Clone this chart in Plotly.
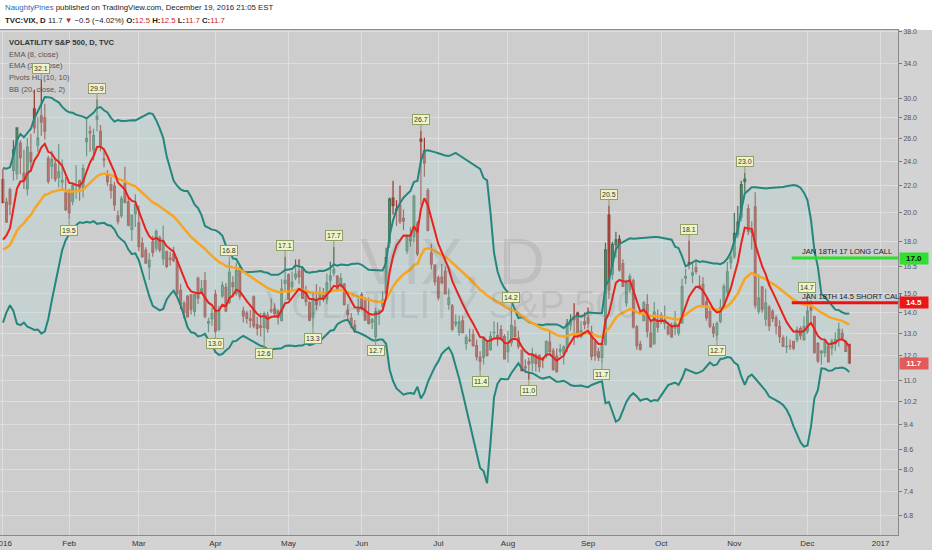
import numpy as np
import pandas as pd
import plotly.graph_objects as go

# ---------------- data ----------------
# closes before the visible window (Nov-Dec 2015), only used to warm up the indicators
warmup_closes = [14.15, 14.54, 15.51, 15.05, 14.33, 16.52, 15.29, 16.06, 18.37, 20.08, 18.16, 18.84, 16.85, 16.99,
                 15.47, 15.62, 15.93, 15.19, 15.12, 16.13,
                 14.67, 15.91, 18.11, 14.81, 15.84, 17.60, 19.61, 19.34, 24.39, 22.73, 20.95, 17.86, 18.94, 20.70,
                 19.34, 16.60, 15.57, 15.74, 16.91, 16.08, 17.29, 18.21]

opens = [
    # Jan
    22.48, 20.75, 21.67, 23.22, 22.96, 25.58, 22.97, 21.74, 24.73, 28.90, 25.40, 28.20, 28.00, 24.23, 23.57, 23.75, 22.64, 22.29, 21.41,
    # Feb
    21.57, 20.79, 21.54, 22.39, 21.81, 25.73, 26.67, 25.01, 27.86, 26.69, 24.18, 22.83, 22.07, 21.95, 19.75, 19.77, 22.16, 20.77, 18.83, 19.90,
    # Mar
    19.26, 17.91, 17.47, 16.47, 17.99, 17.61, 18.27, 16.96, 17.38, 16.98, 17.25, 16.80, 15.16, 14.46, 14.84, 14.91, 14.06, 15.81, 15.00, 15.68, 13.49, 13.70,
    # Apr
    14.94, 13.19, 14.86, 15.31, 14.52, 15.57, 15.00, 16.38, 14.09, 13.98, 13.69, 14.81, 13.42, 13.35, 13.28, 13.88, 14.14, 14.19, 14.07, 13.60, 15.53,
    # May
    16.03, 15.35, 15.85, 16.21, 16.38, 15.14, 14.49, 13.75, 14.62, 14.78, 14.87, 14.70, 15.72, 16.12, 15.93, 15.46, 15.50, 14.11, 13.72, 13.38, 14.06,
    # Jun
    14.92, 14.59, 13.93, 13.52, 12.85, 14.04, 14.34, 15.03, 17.95, 21.05, 20.23, 20.50, 19.58, 17.45, 18.09, 18.34, 19.20, 25.96, 24.90, 21.62, 17.30, 16.57,
    # Jul
    15.84, 15.88, 16.21, 14.42, 14.34, 13.45, 13.06, 13.59, 12.55, 12.69, 12.93, 12.45, 11.95, 11.94, 12.56, 12.27, 13.04, 12.90, 13.18, 12.85,
    # Aug
    12.18, 12.58, 13.29, 12.80, 12.25, 11.54, 11.76, 11.71, 12.00, 12.02, 11.89, 12.04, 12.60, 12.22, 11.99, 12.21, 12.11, 12.37, 13.39, 13.78, 13.97, 12.85, 13.55,
    # Sep
    13.74, 13.05, 12.61, 12.17, 11.94, 12.51, 19.80, 16.05, 17.84, 18.17, 16.66, 14.50, 15.19, 15.68, 13.30, 12.50, 13.62, 14.41, 13.02, 12.54, 13.60,
    # Oct
    13.85, 13.49, 13.32, 13.37, 13.26, 13.03, 13.51, 15.83, 16.73, 16.00, 16.42, 15.40, 15.48, 14.55, 14.05, 13.30, 12.93, 13.57, 14.31, 15.06, 16.72,
    # Nov
    17.11, 18.50, 19.66, 22.32, 20.26, 18.62, 20.40, 14.07, 15.35, 13.68, 14.27, 14.06, 13.74, 13.32, 12.79, 12.40, 12.44, 12.64, 12.71, 13.23, 12.72,
    # Dec
    13.10, 14.25, 13.80, 12.55, 12.13, 12.14, 12.40, 12.35, 12.54, 12.80, 13.00, 12.63, 12.50,
]

highs = [
    23.36, 21.06, 21.86, 25.86, 27.08, 25.86, 25.00, 26.05, 26.43, 30.95, 28.05, 32.09, 29.43, 24.47, 24.91, 24.09, 25.49, 24.13, 22.67,
    21.76, 22.22, 23.65, 22.49, 23.72, 28.00, 27.23, 26.94, 29.90, 27.29, 25.08, 23.24, 22.69, 22.30, 20.16, 21.20, 23.53, 21.05, 19.82, 21.34,
    20.47, 18.29, 17.66, 17.29, 18.40, 18.83, 18.40, 19.08, 17.46, 17.38, 17.70, 17.02, 15.48, 14.60, 14.91, 14.95, 14.97, 15.92, 15.72, 16.17, 13.75, 14.25,
    15.19, 14.34, 15.64, 15.56, 16.80, 15.93, 16.71, 16.52, 14.30, 14.09, 14.13, 14.88, 13.79, 13.99, 14.06, 14.04, 14.72, 14.47, 14.17, 15.77, 17.10,
    16.09, 16.20, 16.91, 16.93, 16.50, 15.41, 14.58, 15.00, 15.49, 15.35, 15.28, 16.09, 16.78, 17.70, 16.00, 16.11, 15.55, 14.42, 13.98, 13.64, 14.71,
    15.06, 14.79, 14.77, 13.75, 14.24, 14.17, 15.11, 17.63, 21.08, 22.39, 20.89, 22.00, 20.23, 18.50, 18.97, 21.32, 19.40, 26.72, 26.09, 21.81, 17.88, 16.65,
    15.97, 16.65, 16.49, 15.26, 14.43, 13.91, 13.86, 13.86, 12.95, 13.22, 13.19, 12.72, 12.20, 12.86, 12.61, 13.10, 13.57, 13.51, 13.40, 12.97,
    13.12, 14.20, 13.64, 13.12, 12.28, 11.85, 11.93, 12.35, 12.13, 12.06, 11.96, 12.68, 13.14, 12.34, 12.33, 12.51, 12.46, 13.69, 13.92, 14.48, 14.04, 13.57, 14.01,
    14.26, 13.36, 12.75, 12.35, 12.63, 17.95, 20.50, 18.01, 18.66, 18.45, 16.92, 15.74, 16.08, 15.79, 13.40, 12.67, 14.59, 14.94, 13.55, 14.54, 14.15,
    14.02, 14.36, 13.53, 13.50, 14.08, 13.41, 15.79, 16.36, 18.10, 16.73, 16.83, 15.98, 15.87, 14.79, 14.23, 13.48, 13.56, 14.68, 15.52, 16.76, 17.25,
    19.97, 20.45, 22.39, 23.01, 20.56, 19.38, 21.48, 16.04, 15.37, 15.24, 14.39, 14.17, 13.87, 13.62, 12.92, 12.87, 12.72, 12.65, 13.32, 13.34, 13.81,
    14.70, 14.63, 13.85, 12.60, 12.25, 12.72, 12.54, 12.76, 13.05, 13.52, 13.22, 12.71, 12.50,
]

lows = [
    20.67, 19.25, 19.80, 22.40, 22.48, 22.90, 21.73, 21.24, 23.11, 26.50, 24.81, 26.27, 25.93, 22.14, 22.55, 22.30, 21.86, 21.59, 20.10,
    19.51, 20.51, 20.98, 20.84, 21.09, 24.41, 24.81, 24.05, 26.69, 24.85, 23.49, 21.99, 21.02, 20.12, 19.15, 19.61, 20.64, 19.03, 18.07, 18.99,
    17.41, 17.01, 16.70, 15.73, 17.08, 17.42, 17.35, 16.59, 16.39, 16.55, 16.76, 14.87, 14.18, 13.71, 13.76, 13.91, 13.81, 14.43, 14.97, 13.72, 13.05, 13.36,
    13.02, 13.11, 14.75, 14.02, 14.44, 14.79, 14.86, 14.67, 13.52, 13.45, 13.26, 13.24, 12.90, 12.86, 12.60, 13.03, 13.98, 13.76, 13.42, 13.57, 15.16,
    14.65, 15.10, 15.71, 15.50, 14.72, 14.35, 13.58, 13.30, 14.13, 14.33, 14.55, 14.42, 15.17, 15.94, 15.16, 15.29, 14.35, 13.66, 13.24, 13.03, 13.87,
    14.11, 13.61, 13.42, 13.21, 12.70, 13.40, 14.20, 14.93, 17.64, 19.84, 19.06, 19.19, 18.78, 17.24, 17.69, 17.99, 17.11, 20.50, 22.71, 18.70, 16.32, 15.42,
    14.62, 15.47, 14.93, 14.14, 13.10, 13.30, 12.89, 13.01, 12.27, 12.60, 12.44, 11.81, 11.40, 11.64, 11.98, 12.22, 12.74, 12.43, 12.70, 11.87,
    11.72, 12.41, 12.73, 12.30, 11.37, 11.30, 11.02, 11.36, 11.35, 11.33, 11.49, 11.90, 12.05, 11.39, 11.34, 12.01, 11.64, 12.16, 13.12, 12.48, 12.78, 12.78, 13.19,
    13.23, 11.82, 11.80, 11.78, 11.70, 12.45, 14.70, 15.74, 17.04, 16.19, 15.34, 14.29, 15.04, 13.23, 12.27, 12.22, 13.56, 12.81, 12.38, 12.49, 13.04,
    13.44, 13.20, 12.91, 12.80, 12.92, 12.89, 13.44, 15.49, 16.34, 15.54, 16.04, 15.21, 14.39, 13.60, 13.24, 12.81, 12.70, 13.48, 14.22, 14.77, 16.35,
    16.94, 18.26, 19.37, 21.52, 18.45, 17.53, 14.21, 13.94, 13.99, 13.36, 13.11, 13.54, 12.95, 12.56, 12.39, 12.13, 12.27, 12.24, 12.60, 12.71, 12.66,
    12.98, 13.58, 12.10, 11.70, 11.63, 11.95, 11.73, 12.03, 12.21, 12.40, 12.66, 12.18, 11.70,
]

closes = [
    20.70, 19.34, 20.59, 24.99, 27.01, 24.30, 22.47, 25.22, 23.95, 27.02, 26.05, 27.59, 26.69, 22.34, 24.15, 22.50, 23.11, 22.42, 20.20,
    19.98, 21.98, 21.65, 21.84, 23.38, 26.00, 26.54, 26.29, 28.14, 25.40, 24.11, 22.31, 21.64, 20.53, 19.38, 20.98, 20.72, 19.11, 19.81, 20.55,
    17.70, 17.09, 16.70, 16.86, 17.35, 18.67, 17.50, 18.05, 16.50, 16.92, 16.84, 14.99, 14.44, 14.02, 13.79, 14.17, 14.94, 14.74, 15.24, 13.82, 13.56, 13.95,
    13.10, 14.12, 15.42, 14.09, 16.16, 15.36, 16.26, 14.85, 13.84, 13.72, 13.62, 13.35, 13.24, 13.28, 13.95, 13.22, 14.08, 13.96, 13.77, 15.22, 15.70,
    14.68, 15.60, 16.05, 15.91, 14.72, 14.57, 13.63, 14.69, 14.41, 15.04, 14.68, 15.57, 15.95, 16.33, 15.20, 15.82, 14.42, 13.90, 13.43, 13.12, 14.19,
    14.20, 13.63, 13.47, 13.65, 14.05, 14.08, 14.64, 17.03, 20.97, 20.50, 20.14, 19.37, 19.41, 18.37, 18.48, 21.17, 17.25, 25.76, 23.85, 18.75, 16.64, 15.63,
    14.77, 15.58, 14.96, 14.76, 13.20, 13.54, 13.55, 13.04, 12.82, 12.67, 12.44, 11.97, 11.77, 12.74, 12.02, 12.87, 13.05, 12.83, 12.72, 11.87,
    12.44, 13.37, 12.86, 12.42, 11.39, 11.50, 11.66, 12.05, 11.68, 11.55, 11.81, 12.64, 12.19, 11.43, 11.34, 12.27, 12.38, 13.45, 13.63, 13.65, 12.94, 13.12, 13.42,
    13.48, 11.98, 12.02, 11.94, 12.51, 17.50, 15.16, 17.85, 18.14, 16.30, 15.37, 15.53, 15.92, 13.30, 12.45, 12.29, 14.50, 13.10, 12.39, 14.02, 13.29,
    13.57, 13.63, 12.99, 12.84, 13.48, 13.38, 15.36, 15.91, 16.69, 16.12, 16.21, 15.28, 14.41, 13.75, 13.34, 13.02, 13.46, 14.24, 15.36, 16.19, 17.06,
    18.56, 19.32, 22.08, 22.51, 18.71, 18.74, 14.38, 14.74, 14.17, 14.48, 13.37, 13.72, 13.35, 12.85, 12.42, 12.41, 12.43, 12.34, 13.15, 12.90, 13.33,
    14.07, 14.12, 12.14, 11.79, 12.22, 12.64, 11.75, 12.64, 12.72, 13.19, 12.79, 12.20, 11.70,
]

# month ticks (bar index of the first trading day of each month)
month_ticks = [0, 19, 39, 61, 82, 103, 125, 145, 168, 189, 210, 231, 252]
month_labels = ["2016", "Feb", "Mar", "Apr", "May", "Jun", "Jul", "Aug", "Sep", "Oct", "Nov", "Dec", "2017"]

price_ticks = [6.8, 7.4, 8.0, 8.6, 9.4, 10.2, 11.0, 12.0, 13.0, 14.0, 15.0, 16.5, 18.0, 20.0, 22.0, 24.0,
               26.0, 28.0, 30.0, 34.0, 38.0]

# pivot labels (bar index, label)
pivot_hi_idx = [11, 27, 65, 81, 95, 120, 146, 174, 197, 213, 231]
pivot_hi_txt = ["32.1", "29.9", "16.8", "17.1", "17.7", "26.7", "14.2", "20.5", "18.1", "23.0", "14.7"]
pivot_lo_idx = [19, 61, 75, 89, 107, 137, 151, 172, 205]
pivot_lo_txt = ["19.5", "13.0", "12.6", "13.3", "12.7", "11.4", "11.0", "11.7", "12.7"]

# drawn option levels
call_levels = [17.0, 14.5]
call_names = ["JAN 18TH 17 LONG CALL", "JAN 18TH 14.5 SHORT CALL"]
call_start = [226.5, 226.5]
last_price = 11.7

# ---------------- indicators ----------------
n = len(closes)
assert len(opens) == n and len(highs) == n and len(lows) == n
allc = pd.Series(warmup_closes + closes)
ema8 = allc.ewm(span=8, adjust=False).mean().values[-n:]
ema34 = allc.ewm(span=34, adjust=False).mean().values[-n:]
mid = allc.rolling(20).mean()
sd = allc.rolling(20).std(ddof=0)
bb_up = (mid + 2 * sd).values[-n:]
bb_lo = (mid - 2 * sd).values[-n:]
xs = list(range(n))

# ---------------- figure ----------------
W, H = 932, 550
ML, MR, MT, MB = 0, 34, 30, 15
PW, PH = W - ML - MR, H - MT - MB
FONT = "Liberation Sans, Arial, sans-serif"


def fx(px):
    return (px - ML) / PW


def fy(py):
    return 1 - (py - MT) / PH


fig = go.Figure()

fig.add_trace(go.Scatter(x=xs, y=bb_up, mode="lines", line=dict(color="#23877d", width=2), hoverinfo="skip"))
fig.add_trace(go.Scatter(x=xs, y=bb_lo, mode="lines", line=dict(color="#23877d", width=2),
                         fill="tonexty", fillcolor="rgba(185,218,218,0.35)", hoverinfo="skip"))

fig.add_trace(go.Candlestick(
    x=xs, open=opens, high=highs, low=lows, close=closes,
    increasing=dict(fillcolor="#5a9e70", line=dict(color="#477157", width=1.2)),
    decreasing=dict(fillcolor="#cc453a", line=dict(color="#943a31", width=1.2)),
    whiskerwidth=0,
))

fig.add_trace(go.Scatter(x=xs, y=ema34, mode="lines", line=dict(color="#f7a522", width=2.5), hoverinfo="skip"))
fig.add_trace(go.Scatter(x=xs, y=ema8, mode="lines", line=dict(color="#e8221c", width=2), hoverinfo="skip"))

line_cols = ["#2de02d", "#ee1111"]
for lvl, x0, c in zip(call_levels, call_start, line_cols):
    fig.add_trace(go.Scatter(x=[x0, 300], y=[lvl, lvl], mode="lines", line=dict(color=c, width=3), hoverinfo="skip"))

ann = []
# header
hdr_font = dict(family=FONT, size=7.8, color="#222222")
ann.append(dict(xref="paper", yref="paper", x=fx(3), y=fy(8), xanchor="left", yanchor="middle", showarrow=False,
                text="<span style='color:#2b67b5'>NaughtyPines</span> published on TradingView.com, December 19, 2016 21:05 EST",
                font=hdr_font))
red = "#c62828"
ann.append(dict(xref="paper", yref="paper", x=fx(3), y=fy(21), xanchor="left", yanchor="middle", showarrow=False,
                text=("<b>TVC:VIX, D</b> 11.7 <span style='color:%s'>▼</span> −0.5 (−4.02%%) "
                      "<b>O:</b><span style='color:%s'>12.5</span> <b>H:</b><span style='color:%s'>12.5</span> "
                      "<b>L:</b><span style='color:%s'>11.7</span> <b>C:</b><span style='color:%s'>11.7</span>")
                % (red, red, red, red, red),
                font=hdr_font))

# legend block
leg = [("<b>VOLATILITY S&P 500, D, TVC</b>", "#333333", 42.5),
       ("EMA (8, close)", "#555555", 54.5),
       ("EMA (34, close)", "#555555", 66),
       ("Pivots HL (10, 10)", "#555555", 77.5),
       ("BB (20, close, 2)", "#555555", 89)]
for t, c, py in leg:
    ann.append(dict(xref="paper", yref="paper", x=fx(7), y=fy(py), xanchor="left", yanchor="middle", showarrow=False,
                    text=t, font=dict(family=FONT, size=7.6, color=c)))

# watermark
ann.append(dict(xref="paper", yref="paper", x=fx(452), y=fy(262), showarrow=False, text="VIX, D",
                font=dict(family=FONT, size=64, color="rgba(90,90,90,0.13)")))
ann.append(dict(xref="paper", yref="paper", x=fx(452), y=fy(305), showarrow=False, text="VOLATILITY S&P 500",
                font=dict(family=FONT, size=38, color="rgba(90,90,90,0.13)")))

# pivot labels
pfont = dict(family=FONT, size=7, color="#333333")
for i, t in zip(pivot_hi_idx, pivot_hi_txt):
    ann.append(dict(x=i, y=np.log10(highs[i]), text=t, showarrow=True, arrowhead=0, arrowwidth=1, arrowcolor="#8f9f65",
                    ax=0, ay=-11, bgcolor="#eef3c9", bordercolor="#8f9f65", borderwidth=1, borderpad=1, font=pfont))
for i, t in zip(pivot_lo_idx, pivot_lo_txt):
    ann.append(dict(x=i, y=np.log10(lows[i]), text=t, showarrow=True, arrowhead=0, arrowwidth=1, arrowcolor="#8f9f65",
                    ax=0, ay=11, bgcolor="#eef3c9", bordercolor="#8f9f65", borderwidth=1, borderpad=1, font=pfont))

# option texts
for lvl, name in zip(call_levels, call_names):
    ann.append(dict(x=228.8, y=np.log10(lvl), text=name, showarrow=False, xanchor="left", yanchor="bottom", yshift=0,
                    font=dict(family=FONT, size=7.6, color="#222222")))

# right-axis badges
badges = [(call_levels[0], "#30e030", "#111111"), (call_levels[1], "#f01515", "#ffffff"), (last_price, "#e25a5a", "#ffffff")]
for v, bg, fc in badges:
    ann.append(dict(xref="paper", x=1, xanchor="left", xshift=1, y=np.log10(v), yanchor="middle", showarrow=False,
                    text="<b>%.1f</b>" % v, bgcolor=bg, borderpad=1, width=26,
                    font=dict(family=FONT, size=8, color=fc)))

shapes = [dict(type="rect", xref="paper", yref="paper", x0=-0.01, x1=1.1, y0=1, y1=1 + MT / PH + 0.01,
               fillcolor="white", line=dict(width=0), layer="below")]

ymin, ymax = 6.345, 38.27
fig.update_layout(
    width=W, height=H, margin=dict(l=ML, r=MR, t=MT, b=MB, autoexpand=False),
    paper_bgcolor="#d3d3d3", plot_bgcolor="#cdcdcd",
    showlegend=False, annotations=ann, shapes=shapes, hovermode=False,
    xaxis=dict(range=[-0.86, 257.0], tickvals=month_ticks, ticktext=month_labels, showgrid=True, automargin=False,
               gridcolor="#dedede", gridwidth=1, zeroline=False, rangeslider=dict(visible=False),
               tickfont=dict(family=FONT, size=8, color="#333333"), ticklabeloverflow="allow",
               ticks="", ticklabelstandoff=0,
               showline=True, linecolor="#8a8a8a", mirror=True),
    yaxis=dict(type="log", side="right", range=[np.log10(ymin), np.log10(ymax)], tickvals=price_ticks, automargin=False,
               ticktext=["%.1f" % v for v in price_ticks], showgrid=True, gridcolor="#dedede", gridwidth=1,
               zeroline=False, tickfont=dict(family=FONT, size=7, color="#555555"),
               ticks="outside", ticklen=3, tickcolor="#777777",
               showline=True, linecolor="#8a8a8a", mirror=True),
)

fig.write_html("out.html", config={"displayModeBar": False, "staticPlot": True},
               post_script="document.body.style.margin='0px';document.body.style.overflow='hidden';")
